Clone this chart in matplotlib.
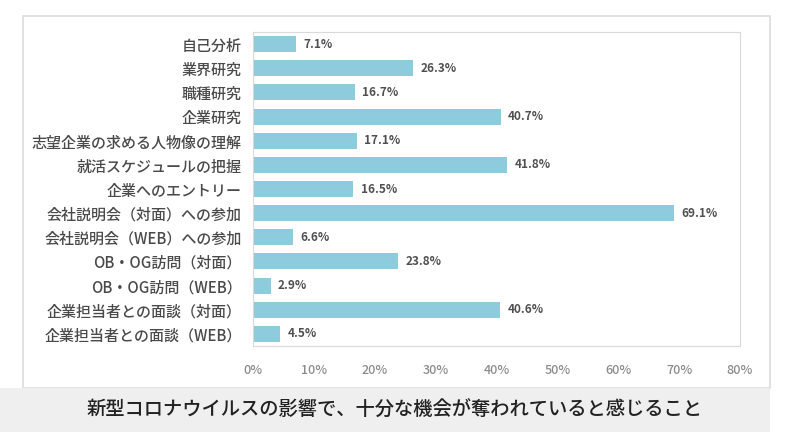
#!/usr/bin/env python3
import matplotlib
matplotlib.use('Agg')
import matplotlib.pyplot as plt
from matplotlib.patches import Rectangle

plt.rcParams['font.family'] = ['Noto Sans CJK JP', 'DejaVu Sans']

items = [
    '自己分析', '業界研究', '職種研究', '企業研究',
    '志望企業の求める人物像の理解', '就活スケジュールの把握', '企業へのエントリー',
    '会社説明会（対面）への参加', '会社説明会（WEB）への参加',
    'OB・OG訪問（対面）', 'OB・OG訪問（WEB）',
    '企業担当者との面談（対面）', '企業担当者との面談（WEB）',
]
values = [7.1, 26.3, 16.7, 40.7, 17.1, 41.8, 16.5, 69.1, 6.6, 23.8, 2.9, 40.6, 4.5]
xticks = [0, 10, 20, 30, 40, 50, 60, 70, 80]
caption = '新型コロナウイルスの影響で、十分な機会が奪われていると感じること'

def main():
    fig = plt.figure(figsize=(7.99, 4.38), dpi=100)

    # outer frame and caption band
    fig.patches.append(Rectangle((23 / 799, 1 - 388 / 438), (770 - 23) / 799, (388 - 16) / 438,
                                 transform=fig.transFigure, fill=False,
                                 edgecolor='#dcdcdc', linewidth=1.2))
    fig.patches.append(Rectangle((0, 1 - 432 / 438), 770 / 799, (432 - 388) / 438,
                                 transform=fig.transFigure, facecolor='#efefef',
                                 edgecolor='none'))
    fig.text(395 / 799, 1 - 410 / 438, caption, ha='center', va='center',
             fontsize=13.9, fontweight='medium', color='#222222')

    ax = fig.add_axes([253 / 799, 1 - 346 / 438, (740 - 253) / 799, (346 - 32) / 438])
    y = list(range(len(items)))
    ax.barh(y, values, height=0.66, color='#8ecbdc')
    for yi, v in zip(y, values):
        ax.text(v + 1.2, yi, f'{v}%', va='center', ha='left', fontsize=8.5,
                fontweight='bold', color='#505050')

    ax.set_xlim(0, 80)
    ax.set_ylim(len(items) - 0.5, -0.5)
    ax.set_yticks(y)
    ax.set_yticklabels(items, fontsize=10.8, fontweight='medium', color='#4a4a4a')
    ax.set_xticks(xticks)
    ax.set_xticklabels([f'{t}%' for t in xticks], fontsize=9, fontweight='medium',
                       color='#8a8a8a')
    ax.tick_params(length=0)
    ax.tick_params(axis='x', pad=13)
    ax.tick_params(axis='y', pad=8)
    for s in ax.spines.values():
        s.set_color('#d9d9d9')

    fig.savefig('out.png', dpi=100)

if __name__ == "__main__":
    main()
